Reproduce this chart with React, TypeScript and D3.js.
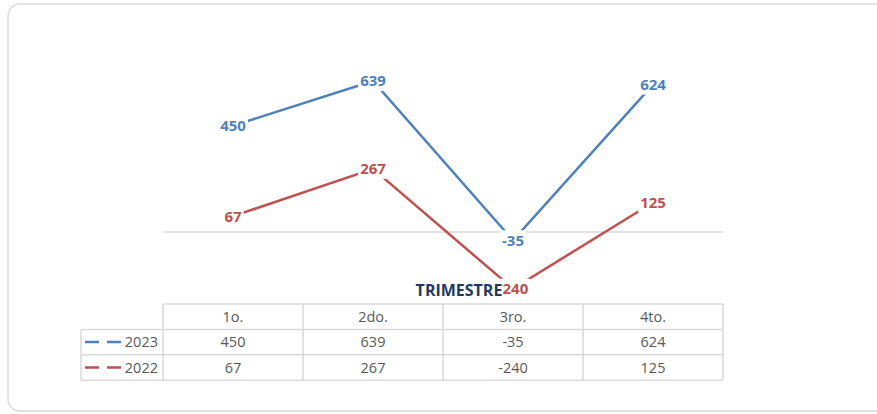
import { scaleBand, scaleLinear, line as d3line } from "d3";

const quarters = ["1o.", "2do.", "3ro.", "4to."];
const series2023 = [450, 639, -35, 624];
const series2022 = [67, 267, -240, 125];

const series = [
  { name: "2023", values: series2023, color: "#4f81bd" },
  { name: "2022", values: series2022, color: "#c0504d" },
];

const W = 877;
const H = 414;
const font = "'Open Sans', 'Liberation Sans', sans-serif";
const grid = "#d9d9d9";

// rough width of a bold 15px label, used for the white box behind it
function labelWidth(s: string) {
  let w = 0;
  for (const ch of s) w += ch === "-" ? 4.8 : 8.6;
  return w;
}

export default function App() {
  const x = scaleBand<string>().domain(quarters).range([163, 723]);
  const y = scaleLinear().domain([-300, 700]).range([302.9, 66.6]);
  const cx = (q: string) => (x(q) ?? 0) + x.bandwidth() / 2;

  const line = d3line<number>()
    .x((_, i) => cx(quarters[i]))
    .y((d) => y(d));

  // table rows
  const rowTop = 304;
  const rowH = 25.4;
  const rowsY = [rowTop, rowTop + rowH, rowTop + rowH * 2, rowTop + rowH * 3];
  const colEdges = [...quarters.map((q) => x(q) ?? 0), 723];
  const legendLeft = 81;

  return (
    <svg
      width={W}
      height={H}
      style={{ position: "absolute", left: 0, top: 0, background: "#fff" }}
      fontFamily={font}
    >
      {/* card border */}
      <rect x={8} y={4} width={900} height={407} rx={12} fill="#fff" stroke="#d9d9d9" strokeWidth={1.5} />

      {/* zero axis */}
      <line x1={163} x2={723} y1={y(0)} y2={y(0)} stroke={grid} strokeWidth={1.5} />

      {/* lines */}
      {series.map((s) => (
        <path key={s.name} d={line(s.values) ?? ""} fill="none" stroke={s.color} strokeWidth={2.5} />
      ))}

      {/* data labels */}
      {series.map((s) =>
        s.values.map((v, i) => {
          const t = String(v);
          const w = labelWidth(t) + 4;
          return (
            <g key={s.name + i}>
              <rect x={cx(quarters[i]) - w / 2} y={y(v) - 10} width={w} height={20} fill="#fff" />
              <text
                x={cx(quarters[i])}
                y={y(v)}
                dy="0.36em"
                textAnchor="middle"
                fontSize={15}
                fontWeight="bold"
                fill={s.color}
              >
                {t}
              </text>
            </g>
          );
        })
      )}

      {/* axis title */}
      <rect x={415} y={281} width={87.5} height={18} fill="#fff" />
      <text x={459} y={290} dy="0.36em" textAnchor="middle" fontSize={16} fontWeight="bold" fill="#1f3864">
        TRIMESTRE
      </text>

      {/* data table grid */}
      <g stroke={grid} strokeWidth={1.5}>
        <line x1={163} x2={723} y1={rowsY[0]} y2={rowsY[0]} />
        {rowsY.slice(1).map((ry, i) => (
          <line key={i} x1={legendLeft} x2={723} y1={ry} y2={ry} />
        ))}
        {colEdges.map((ex, i) => (
          <line key={i} x1={ex} x2={ex} y1={rowsY[0]} y2={rowsY[3]} />
        ))}
        <line x1={legendLeft} x2={legendLeft} y1={rowsY[1]} y2={rowsY[3]} />
      </g>

      {/* header */}
      {quarters.map((q) => (
        <text key={q} x={cx(q)} y={rowsY[0] + rowH / 2} dy="0.36em" textAnchor="middle" fontSize={14.5} fill="#595959">
          {q}
        </text>
      ))}

      {/* rows */}
      {series.map((s, r) => {
        const my = rowsY[r + 1] + rowH / 2;
        return (
          <g key={s.name}>
            <line x1={85} x2={122} y1={my} y2={my} stroke={s.color} strokeWidth={2.5} strokeDasharray="14 8" />
            <text x={158} y={my} dy="0.36em" textAnchor="end" fontSize={14.5} fill="#595959">
              {s.name}
            </text>
            {s.values.map((v, i) => (
              <text key={i} x={cx(quarters[i])} y={my} dy="0.36em" textAnchor="middle" fontSize={14.5} fill="#595959">
                {v}
              </text>
            ))}
          </g>
        );
      })}
    </svg>
  );
}
